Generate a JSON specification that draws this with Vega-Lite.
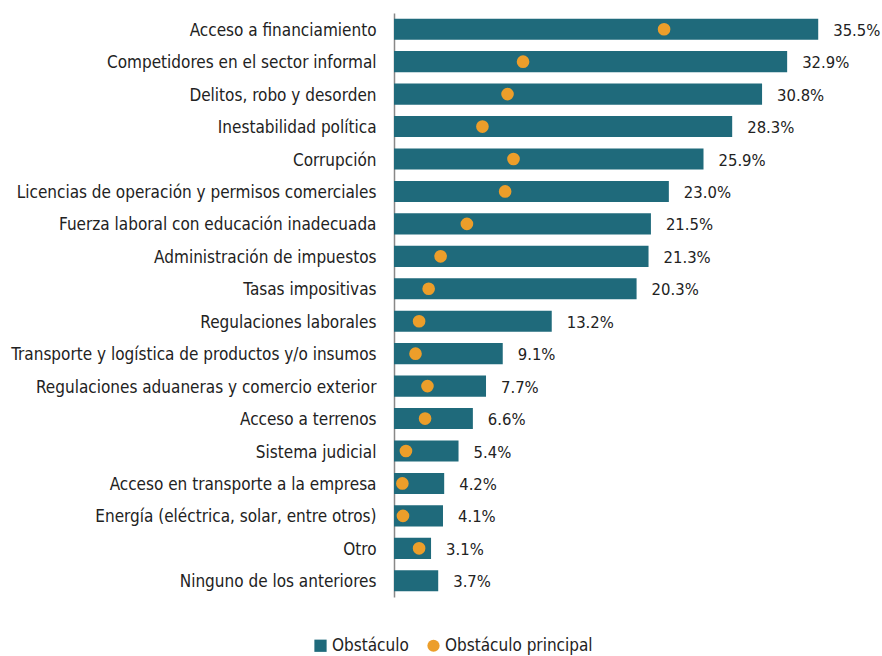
{
  "$schema": "https://vega.github.io/schema/vega-lite/v6.json",
  "autosize": {"type": "none"},
  "padding": {"left": 394, "top": 13, "right": 10, "bottom": 59},
  "width": 478,
  "height": 584,
  "background": "white",
  "config": {
    "view": {"stroke": null},
    "font": "DejaVu Sans Condensed, Lato, sans-serif"
  },
  "data": {
    "values": [
      {"cat": "Acceso a financiamiento", "obst": 35.5, "princ": 22.6},
      {"cat": "Competidores en el sector informal", "obst": 32.9, "princ": 10.8},
      {"cat": "Delitos, robo y desorden", "obst": 30.8, "princ": 9.5},
      {"cat": "Inestabilidad política", "obst": 28.3, "princ": 7.4},
      {"cat": "Corrupción", "obst": 25.9, "princ": 10.0},
      {"cat": "Licencias de operación y permisos comerciales", "obst": 23.0, "princ": 9.3},
      {"cat": "Fuerza laboral con educación inadecuada", "obst": 21.5, "princ": 6.1},
      {"cat": "Administración de  impuestos", "obst": 21.3, "princ": 3.9},
      {"cat": "Tasas impositivas", "obst": 20.3, "princ": 2.9},
      {"cat": "Regulaciones laborales", "obst": 13.2, "princ": 2.1},
      {"cat": "Transporte y logística de productos y/o insumos", "obst": 9.1, "princ": 1.8},
      {"cat": "Regulaciones aduaneras y comercio exterior", "obst": 7.7, "princ": 2.8},
      {"cat": "Acceso a terrenos", "obst": 6.6, "princ": 2.6},
      {"cat": "Sistema judicial", "obst": 5.4, "princ": 1.0},
      {"cat": "Acceso en transporte a la empresa", "obst": 4.2, "princ": 0.7},
      {"cat": "Energía (eléctrica, solar, entre otros)", "obst": 4.1, "princ": 0.75},
      {"cat": "Otro", "obst": 3.1, "princ": 2.1},
      {"cat": "Ninguno de los anteriores", "obst": 3.7, "princ": null}
    ]
  },
  "encoding": {
    "y": {
      "field": "cat",
      "type": "nominal",
      "sort": null,
      "scale": {"paddingInner": 0.35, "paddingOuter": 0.175},
      "axis": {
        "title": null,
        "ticks": false,
        "labelPadding": 18,
        "labelOffset": 1.5,
        "labelFont": "DejaVu Sans Condensed, Lato, sans-serif",
        "labelFontSize": 17,
        "labelColor": "#222222",
        "labelLimit": 500,
        "domainColor": "#888888",
        "domainWidth": 1.5
      }
    }
  },
  "layer": [
    {
      "mark": {"type": "bar"},
      "encoding": {
        "x": {"field": "obst", "type": "quantitative", "scale": {"domain": [0, 40]}, "axis": null},
        "color": {
          "datum": "Obstáculo",
          "scale": {"domain": ["Obstáculo", "Obstáculo principal"], "range": ["#1F6A7B", "#EC9E2A"]},
          "legend": {
            "title": null,
            "orient": "none",
            "direction": "horizontal",
            "legendX": -82,
            "legendY": 624,
            "labelFont": "DejaVu Sans Condensed, Lato, sans-serif",
            "labelFontSize": 17,
            "labelColor": "#222222",
            "symbolSize": 150,
            "symbolStrokeWidth": 0,
            "labelOffset": 3,
            "columnPadding": 16,
            "encode": {
              "symbols": {
                "update": {
                  "shape": {"signal": "datum.value === 'Obstáculo' ? 'square' : 'circle'"}
                }
              }
            }
          }
        }
      }
    },
    {
      "transform": [{"calculate": "format(datum.obst, '.1f') + '%'", "as": "lbl"}],
      "mark": {"type": "text", "align": "left", "baseline": "middle", "dx": 15, "dy": 1.5, "fontSize": 16.5, "color": "#222222", "font": "DejaVu Sans Condensed, Lato, sans-serif"},
      "encoding": {
        "x": {"field": "obst", "type": "quantitative"},
        "text": {"field": "lbl", "type": "nominal"}
      }
    },
    {
      "transform": [{"filter": "datum.princ != null"}],
      "mark": {"type": "point", "filled": true, "opacity": 1, "size": 160},
      "encoding": {
        "x": {"field": "princ", "type": "quantitative"},
        "color": {"datum": "Obstáculo principal"}
      }
    }
  ]
}
